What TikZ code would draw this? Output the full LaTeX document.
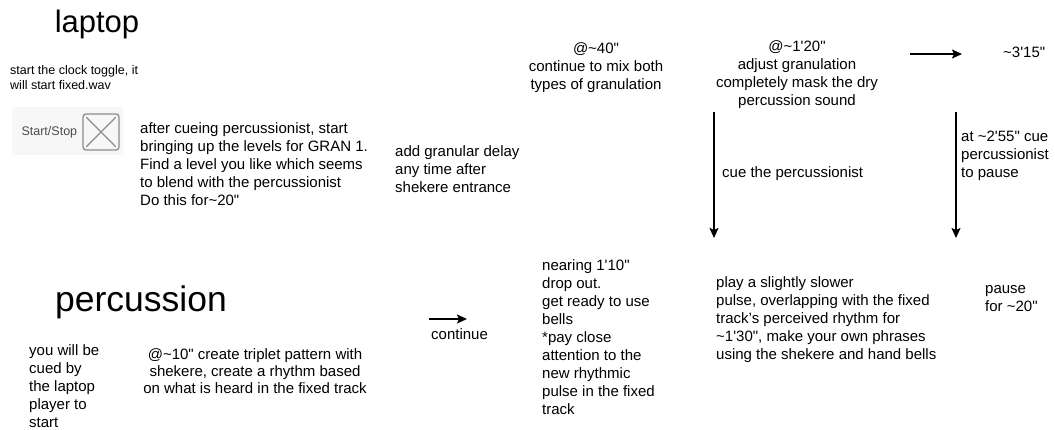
\documentclass[tikz,border=0pt]{standalone}
\usepackage{fontspec}
\newfontfamily\helv{Liberation Sans}
\usetikzlibrary{arrows.meta,positioning,calc}
\newcommand\squig{\textasciitilde}

\begin{document}
\begin{tikzpicture}[
		x=1pt, y=-1pt,
		every node/.style={inner sep=0pt},
		heading/.style={font=\helv\fontsize{31}{36}\selectfont, anchor=base},
		note/.style={font=\helv\fontsize{15}{18}\selectfont, align=left, anchor=base west},
		midnote/.style={font=\helv\fontsize{15}{18}\selectfont, align=center, anchor=base},
		smallnote/.style={font=\helv\fontsize{12.5}{15}\selectfont, align=left, anchor=base west},
		cue/.style={line width=1.7pt, -{Stealth[length=10pt,width=9pt,inset=2pt]}}
		]
		
		\useasboundingbox (0,0) rectangle (1055,429);
		
		% laptop part (nodes placed by the baseline of their last line)
		\node (laptop) [heading] at (97,32) {laptop};
		
		\node (clock) [smallnote] at (10,89)
		{start the clock toggle, it\\will start fixed.wav};
		
		\fill[black!3] (12,107) rectangle (123,155);
		\node (toggle) [draw=black!45, line width=1.3pt, rounded corners=3pt,
		minimum width=36pt, minimum height=36pt] at (101,132) {};
		\draw[black!45, line width=1.1pt]
		($(toggle.north west)+(4,4)$) -- ($(toggle.south east)+(-4,-4)$)
		($(toggle.north east)+(-4,4)$) -- ($(toggle.south west)+(4,-4)$);
		\node (startstop) [font=\helv\fontsize{12.5}{15}\selectfont, text=black!70,
		left=5pt of toggle] {Start/Stop};
		
		\node (gran) [note] at (140,205)
		{after cueing percussionist, start\\bringing up the levels for GRAN 1.\\
			Find a level you like which seems\\to blend with the percussionist\\
			Do this for\squig20"};
		
		\node (delay) [note] at (395,192)
		{add granular delay\\any time after\\shekere entrance};
		
		\node (mix) [midnote] at (596,89)
		{@\squig40"\\continue to mix both\\types of granulation};
		
		\node (mask) [midnote] at (797,105)
		{@\squig1'20"\\adjust granulation\\completely mask the dry\\percussion sound};
		
		\coordinate (endfrom) at (910,54);
		\coordinate (endto) at (962,54);
		\node (finish) [note] at (1003,57) {\squig3'15"};
		
		\coordinate (cuetop) at (714,112);
		\coordinate (cuebot) at (714,238);
		\node (cuelabel) [note] at (722,177) {cue the percussionist};
		
		\coordinate (pausetop) at (956,112);
		\coordinate (pausebot) at (956,238);
		\node (pauselabel) [note] at (961,177)
		{at \squig2'55" cue\\percussionist\\to pause};
		
		% percussion part
		\node (perc) [heading, font=\helv\fontsize{35.5}{40}\selectfont] at (141,311) {percussion};
		
		\node (cued) [note] at (29,427)
		{you will be\\cued by\\the laptop\\player to\\start};
		
		\node (triplet) [midnote, font=\helv\fontsize{15}{17}\selectfont] at (255,393)
		{@\squig10" create triplet pattern with\\shekere, create a rhythm based\\
			on what is heard in the fixed track};
		
		\coordinate (contfrom) at (429,319);
		\coordinate (contto) at (467,319);
		\node (cont) [note] at (431,339) {continue};
		
		\node (bells) [note] at (542,414)
		{nearing 1'10"\\drop out.\\get ready to use\\bells\\*pay close\\
			attention to the\\new rhythmic\\pulse in the fixed\\track};
		
		\node (slower) [note] at (716,359)
		{play a slightly slower\\pulse, overlapping with the fixed\\
			track’s perceived rhythm for\\\squig1'30", make your own phrases\\
			using the shekere and hand bells};
		
		\node (rest) [note] at (985,311) {pause\\for \squig20"};
		
		\draw[cue] (endfrom)--(endto);
		\draw[cue] (cuetop)--(cuebot);
		\draw[cue] (pausetop)--(pausebot);
		\draw[cue, line width=1.5pt] (contfrom)--(contto);
		
	\end{tikzpicture}
\end{document}
